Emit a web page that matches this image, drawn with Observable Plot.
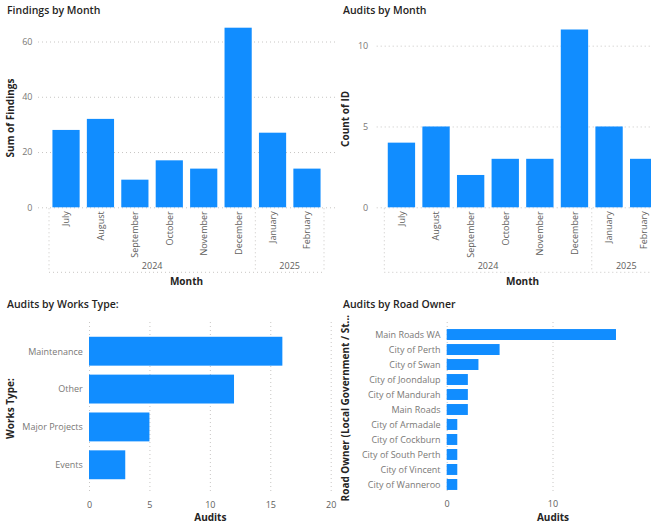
<!DOCTYPE html>
<html><head><meta charset="utf-8">
<script src="https://cdn.jsdelivr.net/npm/d3@7"></script>
<script src="https://cdn.jsdelivr.net/npm/@observablehq/plot@0.6"></script>
<style>
html,body{margin:0;padding:0;background:#fff;width:651px;height:524px;overflow:hidden;position:relative}
.title{position:absolute;font:600 10.5px 'Open Sans',sans-serif;color:#252423;white-space:nowrap;line-height:12px}
.panel{position:absolute}
.panel svg{overflow:visible;max-width:none !important;display:block}
g[aria-label$="tick label"]{fill:#605E5C;font-family:'Open Sans',sans-serif;font-size:9px}
g[aria-label="y-axis tick label"]{fill:#7a7876}
g[aria-label="x-axis label"], g[aria-label="y-axis label"]{fill:#252423;font-family:'Open Sans',sans-serif;font-size:10px;font-weight:700}
</style></head><body>
<script>
// ---- data ----
const months = ["July","August","September","October","November","December","January","February"];
const monthYears = ["2024","2024","2024","2024","2024","2024","2025","2025"];
const findings = [28,32,10,17,14,65,27,14];
const audits = [4,5,2,3,3,11,5,3];
const findingsTicks = [0,20,40,60];
const auditTicks = [0,5,10];
const worksTypes = ["Maintenance","Other","Major Projects","Events"];
const worksAudits = [16,12,5,3];
const worksTicks = [0,5,10,15,20];
const roadOwners = ["Main Roads WA","City of Perth","City of Swan","City of Joondalup","City of Mandurah","Main Roads","City of Armadale","City of Cockburn","City of South Perth","City of Vincent","City of Wanneroo"];
const ownerAudits = [16,5,3,2,2,2,1,1,1,1,1];
const ownerTicks = [0,10];

const BLUE = "#118DFF";
const GRID = {stroke:"#c8c6c4", strokeOpacity:1, strokeDasharray:"1,3"};
const monthRows = months.map((m,i)=>({month:m, year:monthYears[i], findings:findings[i], audits:audits[i]}));
const worksRows = worksTypes.map((t,i)=>({type:t, audits:worksAudits[i]}));
const ownerRows = roadOwners.map((o,i)=>({owner:o, audits:ownerAudits[i]}));

function addTitle(text, left, top){
  const d=document.createElement("div"); d.className="title"; d.textContent=text;
  d.style.left=left+"px"; d.style.top=top+"px"; document.body.appendChild(d);
}
function addPanel(node, left, top, w, h){
  const d=document.createElement("div"); d.className="panel";
  d.style.left=left+"px"; d.style.top=top+"px"; d.style.width=w+"px"; d.style.height=h+"px";
  d.appendChild(node); document.body.appendChild(d);
}

// custom hierarchical year axis (years + separators + "Month" title)
function yearAxis(rows, titleText){
  return (index, scales, values, dim) => {
    const x = scales.x;
    const step = x.step(), bw = x.bandwidth();
    const [r0, r1] = x.range();
    const base = dim.height - dim.marginBottom;
    const sepEnd = base + 65;
    const groups = d3.groups(rows, d=>d.year);
    const g = d3.create("svg:g");
    const bounds = [r0];
    groups.forEach(([yr, items], gi) => {
      const last = items[items.length-1].month;
      bounds.push(gi === groups.length-1 ? r1 : x(last) + bw + (step-bw)/2);
    });
    const dot = s => s.attr("stroke","#c8c6c4").attr("stroke-dasharray","1,3").attr("fill","none");
    bounds.forEach(b => g.append("line").attr("x1",b).attr("x2",b).attr("y1",base+1).attr("y2",sepEnd).call(dot));
    g.append("line").attr("x1",r0).attr("x2",r1).attr("y1",sepEnd).attr("y2",sepEnd).call(dot);
    groups.forEach(([yr], gi) => {
      g.append("text").attr("x",(bounds[gi]+bounds[gi+1])/2).attr("y",base+61.5)
        .attr("text-anchor","middle").attr("fill","#605E5C")
        .attr("font-family","'Open Sans',sans-serif").attr("font-size",9).text(yr);
    });
    g.append("text").attr("x",(r0+r1)/2).attr("y",base+78).attr("text-anchor","middle")
      .attr("fill","#252423").attr("font-family","'Open Sans',sans-serif").attr("font-size",10)
      .attr("font-weight",700).text(titleText);
    return g.node();
  };
}

// ---- Panel 1: Findings by Month ----
const p1 = Plot.plot({
  width:340, height:290, marginLeft:38, marginRight:5, marginTop:27.7, marginBottom:82.7,
  style:{background:"transparent", overflow:"visible"},
  x:{domain:months, range:[49,324], paddingInner:0.21, paddingOuter:0.1, round:false},
  y:{domain:[0,65]},
  marks:[
    Plot.gridY(findingsTicks, GRID),
    Plot.axisY(findingsTicks, {tickSize:0, tickPadding:6, label:"Sum of Findings", labelAnchor:"center", labelOffset:32, labelArrow:"none"}),
    Plot.barY(monthRows, {x:"month", y:"findings", fill:BLUE}),
    Plot.axisX({tickRotate:-90, tickSize:0, tickPadding:3.5, label:null}),
    yearAxis(monthRows, "Month")
  ]
});
addPanel(p1, 0, 0, 340, 290);
addTitle("Findings by Month", 7, 4);

// ---- Panel 2: Audits by Month ----
const p2 = Plot.plot({
  width:340, height:290, marginLeft:46.7, marginRight:0, marginTop:29.5, marginBottom:82.7,
  style:{background:"transparent", overflow:"visible"},
  x:{domain:months, range:[54.3,330.8], paddingInner:0.21, paddingOuter:0.1, round:false},
  y:{domain:[0,11]},
  marks:[
    Plot.gridY(auditTicks, GRID),
    Plot.axisY(auditTicks, {tickSize:0, tickPadding:9, label:"Count of ID", labelAnchor:"center", labelOffset:35.4, labelArrow:"none"}),
    Plot.barY(monthRows, {x:"month", y:"audits", fill:BLUE}),
    Plot.axisX({tickRotate:-90, tickSize:0, tickPadding:3.5, label:null}),
    yearAxis(monthRows, "Month")
  ]
});
addPanel(p2, 330, 0, 340, 290);
addTitle("Audits by Month", 343, 4);

// ---- Panel 3: Audits by Works Type ----
const p3 = Plot.plot({
  width:340, height:234, marginLeft:89, marginRight:9.3, marginTop:32, marginBottom:30,
  style:{background:"transparent", overflow:"visible"},
  x:{domain:[0,20]},
  y:{domain:worksTypes, paddingInner:0.237, paddingOuter:0.39, round:false},
  marks:[
    Plot.gridX(worksTicks, GRID),
    Plot.barX(worksRows, {y:"type", x:"audits", fill:BLUE}),
    Plot.axisY({tickSize:0, tickPadding:6.7, label:"Works Type:", labelAnchor:"center", labelOffset:82.7}),
    Plot.axisX(worksTicks, {tickSize:0, tickPadding:7, label:"Audits", labelAnchor:"center", labelOffset:26.5, labelArrow:"none"})
  ]
});
addPanel(p3, 0, 290, 340, 234);
addTitle("Audits by Works Type:", 7, 298);

// ---- Panel 4: Audits by Road Owner ----
const p4 = Plot.plot({
  width:340, height:234, marginLeft:116.7, marginRight:11.7, marginTop:32, marginBottom:30.7,
  style:{background:"transparent", overflow:"visible"},
  x:{domain:[0,20]},
  y:{domain:roadOwners, range:[32,207], paddingInner:0.27, paddingOuter:0.47, round:false},
  marks:[
    Plot.gridX(ownerTicks, GRID),
    Plot.barX(ownerRows, {y:"owner", x:"audits", fill:BLUE}),
    Plot.axisY({tickSize:0, tickPadding:6.7, label:"Road Owner (Local Government / St...", labelAnchor:"center", labelOffset:105.4}),
    Plot.axisX(ownerTicks, {tickSize:0, tickPadding:7, label:"Audits", labelAnchor:"center", labelOffset:27.2, labelArrow:"none"})
  ]
});
addPanel(p4, 330, 290, 340, 234);
addTitle("Audits by Road Owner", 343, 298);
</script>
</body></html>
